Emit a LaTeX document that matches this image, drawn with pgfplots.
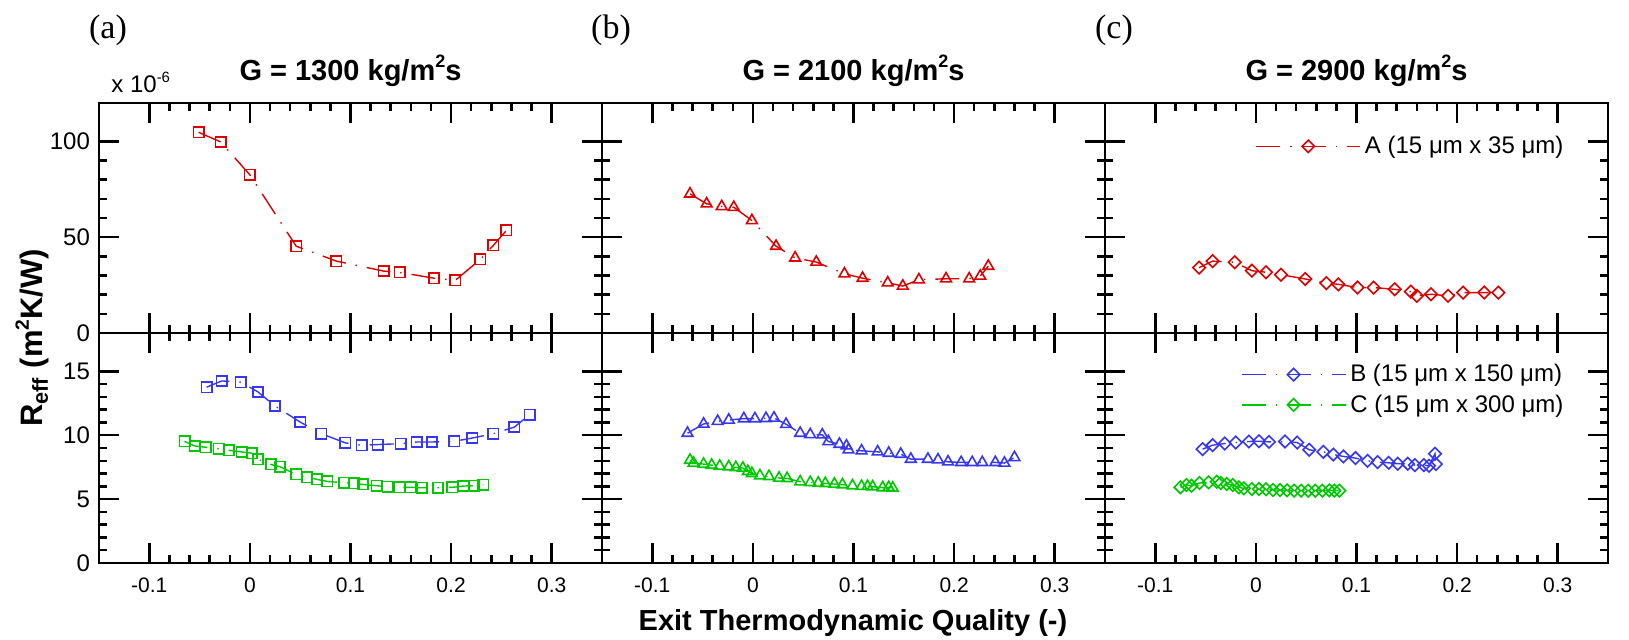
\documentclass[border=0pt]{standalone}
\usepackage{pgfplots}
\pgfplotsset{compat=1.18}
\usepackage{fontspec}
\setmainfont{Liberation Sans}
\newfontfamily\serif{Liberation Serif}
\definecolor{cA}{RGB}{220,0,0}
\definecolor{cB}{RGB}{55,55,240}
\definecolor{cC}{RGB}{0,200,0}
\newcommand{\sups}[1]{\raisebox{0.42em}{\scalebox{0.62}{#1}}}

\pgfplotsset{
  panel/.style={
    scale only axis, width=251.5pt, height=115pt, anchor=south west,
    xmin=-0.15, xmax=0.35,
    xtick={-0.1,0,0.1,0.2,0.3}, xticklabels={-0.1,0,0.1,0.2,0.3},
    minor x tick num=4, minor y tick num=4,
    major tick length=10pt, minor tick length=4pt,
    axis line style={line width=1.4pt},
    tick style={line width=1.25pt, black},
    xticklabel style={font=\fontsize{10.5}{12}\selectfont, yshift=-4pt},
    yticklabel style={font=\fontsize{12}{14}\selectfont, xshift=-1pt},
    clip=false,
    legend style={draw=none, fill=none, font=\fontsize{12}{14}\selectfont,
      anchor=east, inner sep=0pt, row sep=1pt},
    legend cell align=left,
    legend image code/.code={\draw[mark repeat=2,mark phase=2,##1]
      plot coordinates {(0pt,0pt) (26pt,0pt) (52pt,0pt)};},
  },
  rowtop/.style={ymin=0, ymax=120, ytick={0,50,100}, yticklabels={0,50,100}, xticklabels={}},
  rowbot/.style={ymin=0, ymax=18, ytick={0,5,10,15}, yticklabels={0,5,10,15}},
  noylab/.style={yticklabels={}},
  ser/.style={line width=0.7pt, dash pattern={on 12pt off 5pt on 0.7pt off 5pt}},
  sq/.style={ser, mark=square, mark size=2.6pt, mark options={solid, line width=0.8pt}},
  tri/.style={ser, mark=triangle, mark size=3.1pt, mark options={solid, line width=0.8pt}},
  dia/.style={ser, mark=square, mark size=2.2pt, mark options={solid, line width=0.8pt, rotate=45}},
}

\begin{document}
\begin{tikzpicture}
\path[use as bounding box] (0,0) rectangle (814.5pt,319.5pt);

% (a) G = 1300
\begin{axis}[panel, rowtop, at={(49.5pt,153pt)}]
\addplot[sq, cA] coordinates {(-0.051,104.7)(-0.029,99.7)(0.000,82.5)(0.046,45.3)(0.086,37.5)(0.133,32.3)(0.149,31.6)(0.183,28.6)(0.204,27.4)(0.229,38.4)(0.242,45.7)(0.255,53.5)};
\end{axis}
\begin{axis}[panel, rowbot, at={(49.5pt,38pt)}]
\addplot[sq, cB] coordinates {(-0.043,13.76)(-0.028,14.25)(-0.009,14.15)(0.008,13.39)(0.025,12.28)(0.050,11.03)(0.071,10.12)(0.095,9.40)(0.111,9.21)(0.127,9.27)(0.150,9.34)(0.166,9.47)(0.181,9.47)(0.203,9.52)(0.221,9.78)(0.242,10.12)(0.263,10.64)(0.278,11.60)};
\addplot[sq, cC] coordinates {(-0.065,9.52)(-0.055,9.16)(-0.044,9.06)(-0.031,8.93)(-0.021,8.82)(-0.008,8.69)(0.002,8.59)(0.008,8.12)(0.021,7.71)(0.030,7.53)(0.046,6.93)(0.057,6.70)(0.067,6.54)(0.077,6.38)(0.094,6.28)(0.103,6.23)(0.112,6.15)(0.126,6.05)(0.137,5.97)(0.149,5.92)(0.160,5.92)(0.171,5.89)(0.187,5.89)(0.201,5.92)(0.212,6.02)(0.223,6.05)(0.232,6.13)};
\end{axis}

% (b) G = 2100
\begin{axis}[panel, rowtop, noylab, at={(301pt,153pt)}]
\addplot[tri, cA] coordinates {(-0.0625,72.6)(-0.046,67.4)(-0.031,66.0)(-0.019,65.6)(-0.001,58.7)(0.023,45.3)(0.042,39.2)(0.063,37.0)(0.091,30.9)(0.109,28.6)(0.134,26.2)(0.149,24.5)(0.165,27.8)(0.192,28.3)(0.215,28.3)(0.226,29.7)(0.234,34.9)};
\end{axis}
\begin{axis}[panel, rowbot, noylab, at={(301pt,38pt)}]
\addplot[tri, cB] coordinates {(-0.065,10.16)(-0.049,10.88)(-0.035,11.09)(-0.024,11.19)(-0.009,11.30)(0.002,11.30)(0.013,11.32)(0.021,11.35)(0.033,10.86)(0.047,10.16)(0.057,10.05)(0.069,10.03)(0.075,9.51)(0.086,9.30)(0.093,9.17)(0.095,8.86)(0.108,8.78)(0.124,8.70)(0.135,8.60)(0.147,8.52)(0.157,8.13)(0.174,8.13)(0.184,8.08)(0.194,7.92)(0.207,7.87)(0.218,7.87)(0.228,7.87)(0.241,7.87)(0.250,7.82)(0.260,8.26)};
\addplot[tri, cC] coordinates {(-0.0625,8.05)(-0.059,7.82)(-0.049,7.74)(-0.041,7.66)(-0.033,7.58)(-0.024,7.53)(-0.017,7.48)(-0.010,7.43)(-0.005,7.17)(-0.001,7.01)(0.007,6.83)(0.016,6.78)(0.026,6.65)(0.034,6.62)(0.047,6.36)(0.057,6.31)(0.065,6.26)(0.072,6.23)(0.081,6.18)(0.089,6.13)(0.099,6.05)(0.108,6.00)(0.114,6.00)(0.119,5.97)(0.129,5.90)(0.135,5.92)(0.139,5.87)};
\end{axis}

% (c) G = 2900
\begin{axis}[panel, rowtop, noylab, at={(552.5pt,153pt)},
  legend style={at={(axis cs:0.31,97.4)}}]
\addplot[dia, cA] coordinates {(-0.0565,34.1)(-0.043,37.5)(-0.021,36.9)(-0.004,32.5)(0.010,31.7)(0.025,30.4)(0.049,28.2)(0.070,26.0)(0.082,25.4)(0.101,23.7)(0.117,23.7)(0.138,22.8)(0.154,21.6)(0.160,19.4)(0.174,20.2)(0.191,19.4)(0.206,21.1)(0.227,21.1)(0.241,21.1)};
\legend{A (15 μm x 35 μm)}
\end{axis}
\begin{axis}[panel, rowbot, noylab, at={(552.5pt,38pt)},
  legend style={at={(axis cs:0.31,13.56)}}]
\addplot[dia, cB] coordinates {(-0.053,8.91)(-0.043,9.22)(-0.031,9.35)(-0.020,9.43)(-0.007,9.51)(0.003,9.53)(0.013,9.48)(0.029,9.51)(0.041,9.43)(0.053,8.86)(0.067,8.70)(0.077,8.49)(0.087,8.34)(0.099,8.21)(0.111,8.00)(0.121,7.90)(0.132,7.84)(0.141,7.77)(0.151,7.77)(0.158,7.66)(0.167,7.66)(0.172,7.61)(0.178,8.55)(0.179,7.74)};
\addplot[dia, cC] coordinates {(-0.075,5.92)(-0.069,6.10)(-0.064,6.05)(-0.056,6.26)(-0.047,6.31)(-0.039,6.36)(-0.035,6.26)(-0.029,6.18)(-0.023,6.10)(-0.017,5.92)(-0.012,5.84)(-0.004,5.79)(0.003,5.79)(0.010,5.77)(0.017,5.71)(0.024,5.71)(0.031,5.69)(0.038,5.66)(0.045,5.66)(0.052,5.66)(0.059,5.66)(0.066,5.66)(0.073,5.69)(0.078,5.66)(0.083,5.66)};
\legend{B (15 μm x 150 μm), C (15 μm x 300 μm)}
\end{axis}

% labels
\node[font=\serif\fontsize{17}{20}\selectfont] at (54pt,304.5pt) {(a)};
\node[font=\serif\fontsize{17}{20}\selectfont] at (305.5pt,304.5pt) {(b)};
\node[font=\serif\fontsize{17}{20}\selectfont] at (557pt,304.5pt) {(c)};
\node[anchor=base, font=\bfseries\fontsize{14.5}{17}\selectfont] at (175.25pt,279.5pt) {G = 1300 kg/m\sups{2}s};
\node[anchor=base, font=\bfseries\fontsize{14.5}{17}\selectfont] at (426.75pt,279.5pt) {G = 2100 kg/m\sups{2}s};
\node[anchor=base, font=\bfseries\fontsize{14.5}{17}\selectfont] at (678.25pt,279.5pt) {G = 2900 kg/m\sups{2}s};
\node[anchor=base west, inner sep=0pt, font=\fontsize{12}{14}\selectfont] at (55.5pt,273pt) {x 10\sups{-6}};
\node[rotate=90, font=\bfseries\fontsize{15.5}{18}\selectfont] at (16pt,150.5pt) {R\textsubscript{eff} (m\sups{2}K/W)};
\node[anchor=base, font=\bfseries\fontsize{14.5}{17}\selectfont] at (426.5pt,4.5pt) {Exit Thermodynamic Quality (-)};
\end{tikzpicture}
\end{document}
